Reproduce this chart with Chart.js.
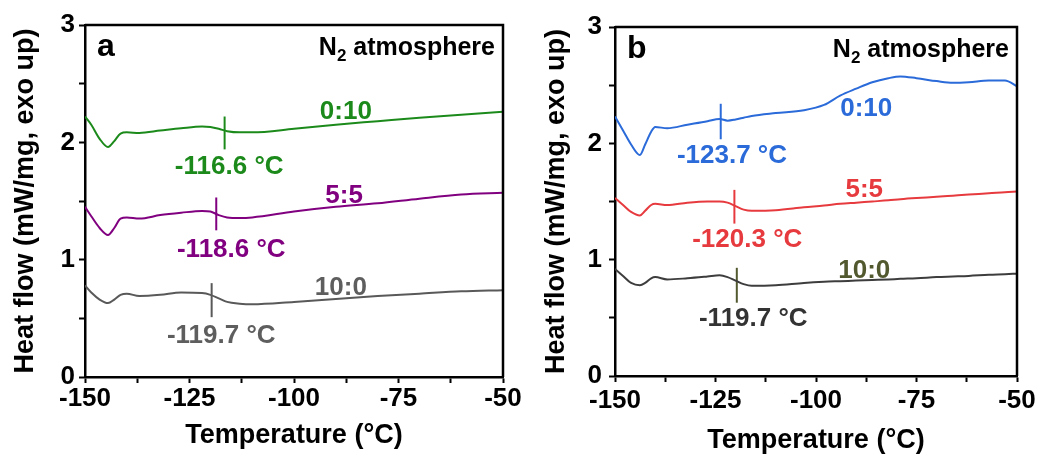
<!DOCTYPE html>
<html>
<head>
<meta charset="utf-8">
<script src="https://cdn.jsdelivr.net/npm/chart.js"></script>
<style>
  html, body { margin: 0; padding: 0; background: #fff; }
  body { width: 1054px; height: 462px; position: relative; overflow: hidden; }
  canvas { position: absolute; top: 0; }
  #chartA { left: 0; width: 530px; height: 462px; }
  #chartB { left: 530px; width: 524px; height: 462px; }
</style>
</head>
<body>
<canvas id="chartA" width="530" height="462"></canvas>
<canvas id="chartB" width="524" height="462"></canvas>
<script>
// ---- data ----
const ratioLabels = ['0:10', '5:5', '10:0'];

// panel a
const tempsA = [-150, -148.5, -146.5, -144.5, -143, -141.5, -140, -137, -132, -127, -122, -120, -118, -116, -113, -110, -100, -90, -80, -70, -60, -50];
const heatA_010 = [2.22, 2.15, 2.03, 1.96, 2.01, 2.075, 2.085, 2.08, 2.10, 2.12, 2.135, 2.13, 2.115, 2.095, 2.085, 2.085, 2.115, 2.15, 2.18, 2.21, 2.235, 2.26];
const heatA_55  = [1.45, 1.37, 1.27, 1.21, 1.27, 1.35, 1.36, 1.35, 1.38, 1.40, 1.415, 1.41, 1.38, 1.36, 1.355, 1.36, 1.41, 1.45, 1.48, 1.52, 1.555, 1.57];
const heatA_100 = [0.78, 0.72, 0.66, 0.63, 0.66, 0.70, 0.71, 0.69, 0.70, 0.72, 0.715, 0.70, 0.67, 0.64, 0.625, 0.62, 0.64, 0.665, 0.69, 0.71, 0.73, 0.74];
const tgA = [-116.6, -118.6, -119.7];
const markLowA  = [1.94, 1.25, 0.51];
const markHighA = [2.22, 1.53, 0.80];

// panel b
const tempsB = [-150, -148, -146, -143.8, -142.5, -141, -140, -137, -132, -127, -124, -122, -120, -118, -116, -110, -103, -98, -94, -90, -86, -82, -79, -75, -70, -66, -62, -57, -53, -50];
const heatB_010 = [2.23, 2.11, 1.99, 1.90, 1.99, 2.10, 2.14, 2.13, 2.16, 2.19, 2.21, 2.195, 2.205, 2.22, 2.235, 2.26, 2.285, 2.33, 2.41, 2.47, 2.525, 2.56, 2.575, 2.56, 2.535, 2.52, 2.525, 2.54, 2.54, 2.49];
const heatB_55  = [1.53, 1.47, 1.41, 1.38, 1.42, 1.47, 1.48, 1.47, 1.49, 1.50, 1.50, 1.49, 1.46, 1.43, 1.42, 1.425, 1.45, 1.465, 1.48, 1.49, 1.50, 1.51, 1.52, 1.53, 1.54, 1.55, 1.56, 1.57, 1.58, 1.585];
const heatB_100 = [0.92, 0.86, 0.80, 0.78, 0.80, 0.84, 0.85, 0.83, 0.84, 0.855, 0.865, 0.85, 0.82, 0.79, 0.775, 0.78, 0.80, 0.81, 0.815, 0.82, 0.825, 0.83, 0.835, 0.84, 0.85, 0.855, 0.86, 0.87, 0.875, 0.88];
const tgB = [-123.7, -120.3, -119.7];
const markLowB  = [2.035, 1.31, 0.63];
const markHighB = [2.34, 1.60, 0.93];

// where the annotation texts sit (data coordinates)
const ratioAtA = [[-87.6, 2.26], [-88, 1.54], [-88.8, 0.76]];
const tgAtA    = [[-115.5, 1.79], [-115, 1.08], [-117.4, 0.35]];
const ratioAtB = [[-87.5, 2.30], [-88, 1.60], [-88, 0.90]];
const tgAtB    = [[-120.9, 1.89], [-117.1, 1.17], [-115.6, 0.49]];

const FONT = '"Liberation Sans", Arial, sans-serif';

function toPoints(temps, vals) {
    return temps.map((t, i) => ({ x: t, y: vals[i] }));
}

function makeChart(id, p) {
    const datasets = [];
    p.series.forEach((vals, i) => {
        datasets.push({
            data: toPoints(p.temps, vals),
            borderColor: p.lineColors[i],
            borderWidth: 2,
            pointRadius: 0,
            cubicInterpolationMode: 'monotone',
            fill: false
        });
    });
    // Tg markers
    p.tg.forEach((t, i) => {
        datasets.push({
            data: [{ x: t, y: p.markLow[i] }, { x: t, y: p.markHigh[i] }],
            borderColor: p.markColors[i],
            borderWidth: 2,
            pointRadius: 0,
            fill: false
        });
    });

    const annot = {
        id: 'annot',
        afterDraw(chart) {
            const { ctx, chartArea: a, scales: { x, y } } = chart;
            ctx.save();
            // box frame (top + right)
            ctx.strokeStyle = '#000';
            ctx.lineWidth = 2.5;
            ctx.beginPath();
            ctx.moveTo(a.left, a.top);
            ctx.lineTo(a.right, a.top);
            ctx.lineTo(a.right, a.bottom);
            ctx.stroke();

            ctx.font = `bold 26px ${FONT}`;
            ctx.textAlign = 'center';
            ctx.textBaseline = 'middle';
            p.ratioAt.forEach((pos, i) => {
                ctx.fillStyle = p.ratioColors[i];
                ctx.fillText(ratioLabels[i], x.getPixelForValue(pos[0]), y.getPixelForValue(pos[1]));
            });
            p.tgAt.forEach((pos, i) => {
                ctx.fillStyle = p.tgColors[i];
                ctx.fillText(p.tg[i].toFixed(1) + ' \u00B0C', x.getPixelForValue(pos[0]), y.getPixelForValue(pos[1]));
            });

            // panel letter
            ctx.fillStyle = '#000';
            ctx.textAlign = 'left';
            ctx.textBaseline = 'alphabetic';
            ctx.font = `bold 32px ${FONT}`;
            ctx.fillText(p.letter, a.left + 12, a.top + 31);

            // N2 atmosphere
            const base = a.top + 30;
            let xr = a.right - 8;
            ctx.textAlign = 'right';
            ctx.font = `bold 25px ${FONT}`;
            const rest = ' atmosphere';
            ctx.fillText(rest, xr, base);
            xr -= ctx.measureText(rest).width;
            ctx.font = `bold 17px ${FONT}`;
            ctx.fillText('2', xr, base + 6);
            xr -= ctx.measureText('2').width;
            ctx.font = `bold 25px ${FONT}`;
            ctx.fillText('N', xr, base);
            ctx.restore();
        }
    };

    return new Chart(document.getElementById(id), {
        type: 'line',
        data: { datasets },
        options: {
            responsive: false,
            animation: false,
            layout: { padding: { left: 0, right: p.padRight, top: p.padTop, bottom: 0 } },
            plugins: { legend: { display: false }, tooltip: { enabled: false } },
            scales: {
                x: {
                    type: 'linear',
                    min: -150,
                    max: -50,
                    ticks: {
                        stepSize: 12.5,
                        autoSkip: false,
                        maxRotation: 0,
                        padding: p.xTickPad,
                        color: '#000',
                        font: { family: FONT, size: 26, weight: 'bold' },
                        callback: v => (v % 25 === 0 ? v : '')
                    },
                    grid: { drawOnChartArea: false, drawTicks: true, tickLength: 6, tickWidth: 2, tickColor: '#000' },
                    border: { color: '#000', width: 2.5 },
                    title: {
                        display: true,
                        text: 'Temperature (\u00B0C)',
                        color: '#000',
                        font: { family: FONT, size: 27, weight: 'bold' },
                        padding: { top: 0, bottom: p.xTitlePad }
                    },
                    afterFit: s => { s.height = p.xHeight; s.paddingLeft = 0; s.paddingRight = 0; }
                },
                y: {
                    min: 0,
                    max: 3,
                    ticks: {
                        stepSize: 0.5,
                        padding: p.yTickPad,
                        color: '#000',
                        font: { family: FONT, size: 26, weight: 'bold' },
                        callback: v => (Number.isInteger(v) ? v : '')
                    },
                    grid: { drawOnChartArea: false, drawTicks: true, tickLength: 6, tickWidth: 2, tickColor: '#000' },
                    border: { color: '#000', width: 2.5 },
                    title: {
                        display: true,
                        text: 'Heat flow (mW/mg, exo up)',
                        color: '#000',
                        font: { family: FONT, size: 27, weight: 'bold' },
                        padding: { top: p.yTitlePad, bottom: 0 }
                    },
                    afterFit: s => { s.width = 85; s.paddingTop = 0; s.paddingBottom = 0; }
                }
            }
        },
        plugins: [annot]
    });
}

makeChart('chartA', {
    temps: tempsA,
    series: [heatA_010, heatA_55, heatA_100],
    lineColors: ['#1b8a1b', '#800080', '#595959'],
    markColors: ['#1b8a1b', '#800080', '#595959'],
    ratioColors: ['#1b8a1b', '#800080', '#5e5e5e'],
    tgColors: ['#1b8a1b', '#800080', '#5e5e5e'],
    tg: tgA, markLow: markLowA, markHigh: markHighA,
    ratioAt: ratioAtA, tgAt: tgAtA,
    letter: 'a',
    padRight: 27, padTop: 25, xHeight: 85,
    xTickPad: 0, xTitlePad: 10, yTickPad: 4, yTitlePad: 9
});

makeChart('chartB', {
    temps: tempsB,
    series: [heatB_010, heatB_55, heatB_100],
    lineColors: ['#2a6ad9', '#e63a3e', '#3d3d3d'],
    markColors: ['#2a6ad9', '#e63a3e', '#53592f'],
    ratioColors: ['#2a6ad9', '#e63a3e', '#53592f'],
    tgColors: ['#2a6ad9', '#e63a3e', '#333333'],
    tg: tgB, markLow: markLowB, markHigh: markHighB,
    ratioAt: ratioAtB, tgAt: tgAtB,
    letter: 'b',
    padRight: 37, padTop: 27, xHeight: 86,
    xTickPad: 3, xTitlePad: 5, yTickPad: 7, yTitlePad: 10
});
</script>
</body>
</html>
